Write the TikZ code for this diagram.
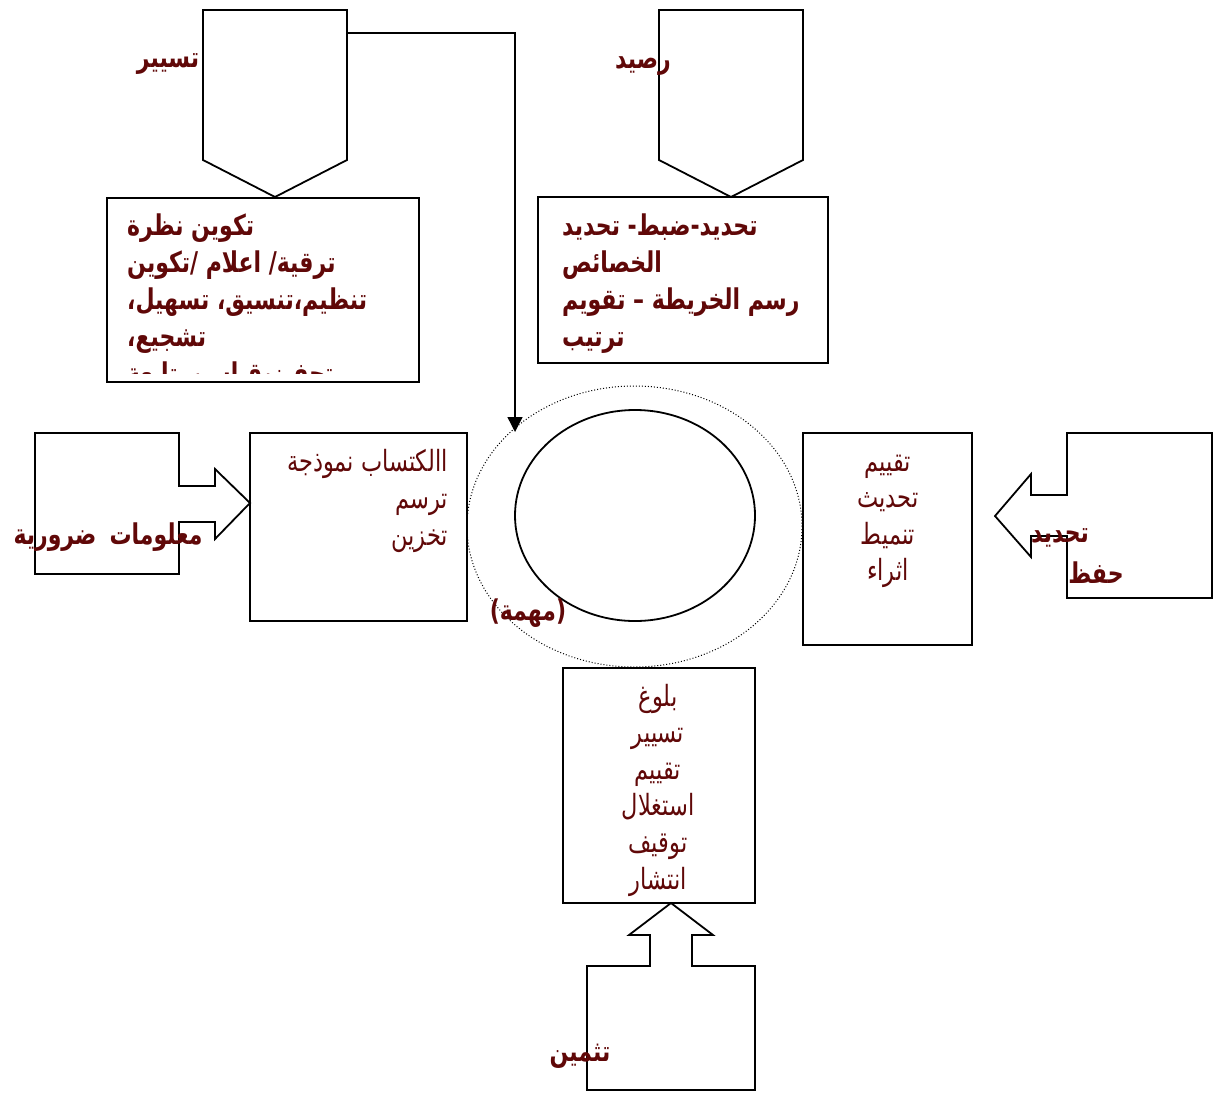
\documentclass[tikz,border=0pt]{standalone}
\usepackage{fontspec}
\usepackage{graphicx}
\usetikzlibrary{shapes.geometric,arrows.meta}
\newfontfamily\arabicfont[Script=Arabic]{DejaVu Sans}
\definecolor{maroon}{RGB}{96,8,8}
\newcommand\W[1]{\hbox{#1}}
\newcommand\TL[1]{\scalebox{1}[1.3]{#1}}
\tikzset{
  x=1pt,y=-1pt,
  shapeline/.style={draw=black,line width=1.8pt,line join=miter},
  regtxt/.style={font=\arabicfont\fontsize{22.5}{26}\selectfont,text=maroon,inner sep=0pt},
  boldtxt/.style={font=\arabicfont\bfseries\fontsize{22}{26}\selectfont,text=maroon,inner sep=0pt},
}
\begin{document}
\begin{tikzpicture}
\useasboundingbox (0,0) rectangle (1215,1092);
% top-left pentagon
\draw[shapeline] (203,10) -- (347,10) -- (347,160) -- (275,197) -- (203,160) -- cycle;
\coordinate (p1e) at (347,33);
% top-right pentagon
\draw[shapeline] (659,10) -- (803,10) -- (803,160) -- (731,197) -- (659,160) -- cycle;
% box 1
\draw[shapeline] (107,198) rectangle (419,382);
\begin{scope}
\clip (107,198) rectangle (419,373);
\foreach \t [count=\i] in {{\W{نظرة} \W{تكوين}},{\W{/تكوين} \W{اعلام} \W{ترقية/}},{\W{تسهيل،} \W{تنسيق،}\W{تنظيم،}},{\W{تشجيع،}},{\W{متابعة}\W{قياس،}\W{تحفيز،}}}
  \node[boldtxt,anchor=base west] (bl\i) at (127,{235.5+37*(\i-1)}) {\TL{\t}};
\end{scope}
% box 2
\draw[shapeline] (538,197) rectangle (828,363);
\foreach \t [count=\i] in {{\W{تحديد} \W{ضبط-}\W{تحديد-}},{\W{الخصائص}},{\W{تقويم} \W{–} \W{الخريطة} \W{رسم}},{\W{ترتيب}}}
  \node[boldtxt,anchor=base west] (br\i) at (562,{235.5+37*(\i-1)}) {\TL{\t}};
% labels of pentagons
\node[boldtxt] (ltsy) at (168,64) {\TL{تسيير}};
\node[boldtxt] (lrsd) at (643,66) {\TL{رصيد}};
% central ellipses
\node[ellipse,draw=black,line width=1pt,dash pattern=on 1pt off 2pt,minimum width=335pt,minimum height=281pt,inner sep=0pt] (outer) at (634.5,526.5) {};
\node[ellipse,shapeline,minimum width=240pt,minimum height=211pt,inner sep=0pt] (inner) at (635,515.5) {};
\coordinate (hit) at (515,432);
\draw[line width=1.4pt,-{Triangle[length=15pt,width=15pt]}] (p1e) -| (hit);
\node[boldtxt] (mhm) at (528,613) {\TL{(مهمة)}};
% left box
\draw[shapeline] (250,433) rectangle (467,621);
\foreach \t [count=\i] in {{\W{نموذجة} \W{االكتساب}},{\W{ترسم}},{\W{تخزين}}}
  \node[regtxt,anchor=base east] (lb\i) at (448,{471+37*(\i-1)}) {\TL{\t}};
% left arrow shape
\draw[shapeline] (35,433) -- (179,433) -- (179,486) -- (215,486) -- (215,469) -- (250,503) -- (215,539) -- (215,522) -- (179,522) -- (179,574) -- (35,574) -- cycle;
\node[boldtxt] (lmal) at (108,537) {\TL{\W{ضرورية}\hspace{0.6em}\W{معلومات}}};
% right box
\draw[shapeline] (803,433) rectangle (972,645);
\foreach \t [count=\i] in {{تقييم},{تحديث},{تنميط},{اثراء}}
  \node[regtxt,anchor=base] (rb\i) at (888,{471+36.5*(\i-1)}) {\TL{\t}};
% right arrow shape
\draw[shapeline] (1067,433) -- (1212,433) -- (1212,598) -- (1067,598) -- (1067,536) -- (1031,536) -- (1031,557) -- (995,516) -- (1031,474) -- (1031,495) -- (1067,495) -- cycle;
\node[boldtxt] (ltah) at (1060,538) {\TL{تحديد}};
\node[boldtxt] (lhfz) at (1096,573) {\TL{حفظ}};
% bottom box
\draw[shapeline] (563,668) rectangle (755,903);
\foreach \t [count=\i] in {{بلوغ},{تسيير},{تقييم},{استغلال},{توقيف},{انتشار}}
  \node[regtxt,anchor=base] (bb\i) at (658,{706+36.6*(\i-1)}) {\TL{\t}};
% bottom arrow shape
\draw[shapeline] (587,1090) -- (587,966) -- (650,966) -- (650,935) -- (629,935) -- (671,903) -- (713,935) -- (692,935) -- (692,966) -- (755,966) -- (755,1090) -- cycle;
\node[boldtxt] (ltmn) at (580,1056) {\TL{تثمين}};
\end{tikzpicture}
\end{document}
